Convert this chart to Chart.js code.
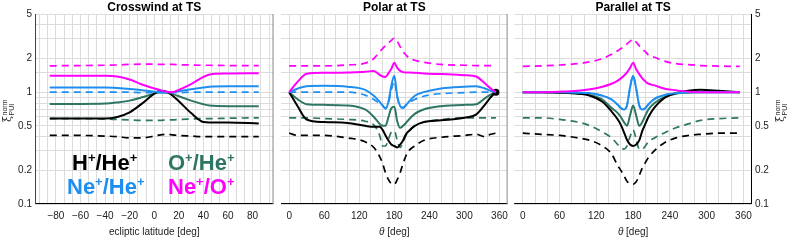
<!DOCTYPE html>
<html>
<head>
<meta charset="utf-8">
<script src="https://cdn.jsdelivr.net/npm/chart.js@4"></script>
<style>
  body { margin: 0; background: #fff; width: 789px; height: 240px; position: relative; overflow: hidden; }
  canvas { position: absolute; top: 0; }
</style>
</head>
<body>
<canvas id="c1" width="275" height="240" style="left:0"></canvas>
<canvas id="c2" width="239" height="240" style="left:275px"></canvas>
<canvas id="c3" width="275" height="240" style="left:514px"></canvas>
<script>
// ---- data ----
// crosswind at TS, x = ecliptic latitude [deg]
const latCW    = [-85, -60, -40, -30, -20, -10, 0, 5, 10, 15, 20, 30, 40, 45, 60, 85];
const cwHHe    = [0.58, 0.58, 0.58, 0.6, 0.66, 0.79, 0.97, 1.03, 1.01, 0.93, 0.83, 0.65, 0.54, 0.535, 0.535, 0.525];
const cwHHeD   = [0.41, 0.41, 0.405, 0.4, 0.39, 0.39, 0.405, 0.415, 0.42, 0.415, 0.41, 0.405, 0.4, 0.4, 0.4, 0.4];
const cwOHe    = [0.785, 0.785, 0.79, 0.81, 0.84, 0.9, 0.97, 1.0, 0.99, 0.96, 0.92, 0.84, 0.78, 0.76, 0.75, 0.75];
const cwOHeD   = [0.58, 0.58, 0.575, 0.57, 0.565, 0.56, 0.56, 0.56, 0.565, 0.565, 0.57, 0.575, 0.58, 0.58, 0.585, 0.59];
const cwNeHe   = [1.1, 1.1, 1.1, 1.09, 1.07, 1.04, 1.01, 1.0, 1.0, 1.0, 1.02, 1.06, 1.1, 1.12, 1.13, 1.13];
const cwNeHeD  = [1.0, 1.0, 1.0, 1.0, 1.0, 0.99, 0.99, 0.99, 0.99, 0.99, 0.99, 1.0, 1.0, 1.0, 1.0, 1.0];
const cwNeO    = [1.4, 1.4, 1.4, 1.38, 1.3, 1.17, 1.08, 1.04, 1.01, 1.0, 1.05, 1.18, 1.37, 1.44, 1.47, 1.48];
const cwNeOD   = [1.72, 1.73, 1.74, 1.75, 1.77, 1.78, 1.78, 1.77, 1.77, 1.77, 1.76, 1.75, 1.74, 1.74, 1.73, 1.73];

// polar at TS, x = theta [deg]
const thPol    = [0, 15, 30, 60, 100, 130, 145, 155, 160, 165, 170, 175, 180, 185, 190, 195, 200, 205, 215, 230, 260, 300, 320, 335, 345, 354];
const polHHe   = [1.0, 0.74, 0.57, 0.54, 0.53, 0.5, 0.49, 0.49, 0.46, 0.41, 0.37, 0.34, 0.33, 0.32, 0.34, 0.37, 0.42, 0.45, 0.5, 0.54, 0.56, 0.59, 0.63, 0.77, 0.9, 1.0];
const polHHeD  = [0.43, 0.41, 0.41, 0.41, 0.39, 0.36, 0.32, 0.265, 0.23, 0.19, 0.165, 0.152, 0.15, 0.165, 0.19, 0.23, 0.27, 0.3, 0.33, 0.37, 0.395, 0.41, 0.42, 0.4, 0.42, 0.43];
const polOHe   = [1.0, 0.86, 0.78, 0.77, 0.76, 0.7, 0.6, 0.52, 0.5, 0.5, 0.6, 0.72, 0.74, 0.55, 0.48, 0.5, 0.53, 0.57, 0.64, 0.7, 0.75, 0.77, 0.78, 0.88, 0.95, 1.0];
const polOHeD  = [0.59, 0.59, 0.59, 0.58, 0.57, 0.55, 0.51, 0.41, 0.33, 0.33, 0.38, 0.44, 0.45, 0.37, 0.32, 0.36, 0.41, 0.45, 0.5, 0.54, 0.57, 0.59, 0.59, 0.59, 0.59, 0.59];
const polNeHe  = [1.0, 1.08, 1.13, 1.14, 1.12, 1.05, 0.93, 0.82, 0.76, 0.71, 0.82, 1.15, 1.4, 0.92, 0.75, 0.72, 0.77, 0.82, 0.93, 1.0, 1.08, 1.12, 1.13, 1.08, 1.03, 1.0];
const polNeHeD = [1.0, 1.0, 1.0, 1.0, 1.0, 0.94, 0.86, 0.79, 0.76, 0.72, 0.8, 1.05, 1.25, 0.9, 0.75, 0.73, 0.76, 0.8, 0.86, 0.92, 0.97, 0.99, 1.0, 1.0, 1.0, 1.0];
const polNeO   = [1.0, 1.25, 1.46, 1.49, 1.5, 1.52, 1.55, 1.43, 1.38, 1.37, 1.48, 1.62, 1.83, 1.65, 1.55, 1.51, 1.5, 1.5, 1.49, 1.47, 1.45, 1.42, 1.38, 1.2, 1.08, 1.0];
const polNeOD  = [1.72, 1.72, 1.72, 1.72, 1.75, 1.82, 2.0, 2.3, 2.45, 2.6, 2.75, 2.9, 3.05, 2.85, 2.55, 2.3, 2.15, 2.02, 1.93, 1.85, 1.77, 1.74, 1.73, 1.73, 1.73, 1.73];

// parallel at TS, x = theta [deg]
const thPar    = [0, 30, 60, 90, 110, 130, 145, 155, 160, 165, 170, 175, 180, 185, 190, 195, 200, 205, 215, 230, 250, 270, 290, 320, 354];
const parHHe   = [1.0, 1.0, 0.99, 0.97, 0.93, 0.82, 0.67, 0.57, 0.51, 0.44, 0.375, 0.34, 0.33, 0.34, 0.37, 0.45, 0.52, 0.6, 0.73, 0.88, 0.98, 1.03, 1.05, 1.03, 1.0];
const parHHeD  = [0.43, 0.42, 0.41, 0.39, 0.37, 0.33, 0.28, 0.22, 0.2, 0.18, 0.16, 0.152, 0.15, 0.158, 0.18, 0.21, 0.235, 0.26, 0.3, 0.35, 0.39, 0.41, 0.42, 0.43, 0.43];
const parOHe   = [1.0, 1.0, 0.99, 0.97, 0.94, 0.86, 0.72, 0.65, 0.6, 0.54, 0.5, 0.62, 0.76, 0.62, 0.5, 0.54, 0.62, 0.7, 0.8, 0.9, 0.97, 0.99, 1.0, 1.0, 1.0];
const parOHeD  = [0.59, 0.59, 0.57, 0.54, 0.5, 0.44, 0.39, 0.34, 0.32, 0.31, 0.33, 0.4, 0.46, 0.38, 0.31, 0.31, 0.33, 0.36, 0.39, 0.43, 0.48, 0.52, 0.56, 0.58, 0.59];
const parNeHe  = [1.0, 1.0, 1.0, 0.99, 0.98, 0.93, 0.86, 0.77, 0.72, 0.7, 0.76, 1.1, 1.4, 1.08, 0.76, 0.7, 0.72, 0.78, 0.87, 0.94, 0.98, 1.0, 1.0, 1.0, 1.0];
const parNeHeD = [1.0, 1.0, 1.0, 0.99, 0.98, 0.93, 0.86, 0.77, 0.72, 0.7, 0.76, 1.1, 1.4, 1.08, 0.76, 0.7, 0.72, 0.78, 0.87, 0.94, 0.98, 1.0, 1.0, 1.0, 1.0];
const parNeO   = [1.0, 1.0, 1.01, 1.03, 1.06, 1.12, 1.19, 1.27, 1.33, 1.4, 1.5, 1.65, 1.83, 1.6, 1.45, 1.33, 1.25, 1.19, 1.15, 1.08, 1.04, 1.01, 1.0, 1.0, 1.0];
const parNeOD  = [1.7, 1.72, 1.75, 1.8, 1.87, 2.0, 2.18, 2.35, 2.45, 2.55, 2.7, 2.85, 2.98, 2.8, 2.6, 2.42, 2.3, 2.15, 2.05, 1.9, 1.8, 1.76, 1.73, 1.71, 1.7];

const yTickLabels = [0.1, 0.2, 0.5, 1, 2, 5];
const panelTitles = ['Crosswind at TS', 'Polar at TS', 'Parallel at TS'];

const colH = '#000000', colO = '#2f7564', colNe = '#1e8ff0', colNeO = '#ff00ff';
const SANS = '"Liberation Sans", Arial, Helvetica, sans-serif';
const GRID = '#dcdcdc';

function series(xs, ys, color, dashed, extra) {
  return Object.assign({
    data: xs.map((x, i) => ({ x: x, y: ys[i] })),
    borderColor: color,
    backgroundColor: color,
    borderWidth: dashed ? 1.7 : 2,
    borderDash: dashed ? [7, 5] : [],
    pointRadius: 0,
    cubicInterpolationMode: 'monotone',
    fill: false
  }, extra || {});
}

function yLabel(v) {
  const t = yTickLabels.find(t => Math.abs(v / t - 1) < 1e-6);
  return t === undefined ? '' : String(t);
}
function latLabel(v) {
  const r = Math.round(v);
  return (Math.abs(v - r) < 1e-6 && r % 20 === 0 && Math.abs(r) <= 80) ? String(r).replace('-', '\u2212') : '';
}
function thetaLabel(v) {
  const r = Math.round(v);
  return (Math.abs(v - r) < 1e-6 && r % 60 === 0 && r >= 0 && r <= 360) ? String(r) : '';
}

function vline(ctx, x, y0, y1, color) {
  ctx.strokeStyle = color; ctx.lineWidth = 1;
  ctx.beginPath(); ctx.moveTo(x, y0); ctx.lineTo(x, y1); ctx.stroke();
}

// xi^norm_PUI, rotated so it reads bottom to top
function drawXi(ctx, x, y) {
  ctx.save();
  ctx.translate(x, y);
  ctx.rotate(-Math.PI / 2);
  ctx.fillStyle = '#222';
  ctx.textAlign = 'left';
  ctx.textBaseline = 'alphabetic';
  ctx.font = '11px "DejaVu Serif", serif';
  ctx.fillText('\u03BE', 0, 0);
  const w = ctx.measureText('\u03BE').width + 0.5;
  ctx.font = '7px ' + SANS;
  ctx.fillText('norm', w, -4.5);
  ctx.fillText('PUI', w, 3);
  ctx.restore();
}

function drawSup(ctx, parts, x, y, color) {
  ctx.fillStyle = color;
  ctx.textAlign = 'left';
  ctx.textBaseline = 'alphabetic';
  parts.forEach(p => {
    ctx.font = p[1] ? 'bold 13px ' + SANS : 'bold 22px ' + SANS;
    ctx.fillText(p[0], x, p[1] ? y - 8 : y);
    x += ctx.measureText(p[0]).width;
  });
}

const deco = {
  id: 'deco',
  afterDatasetsDraw(chart, args, o) {
    const ctx = chart.ctx, a = chart.chartArea;
    ctx.save();
    // frame
    ctx.strokeStyle = '#000'; ctx.lineWidth = 1;
    ctx.beginPath(); ctx.moveTo(a.left, a.bottom - 0.5); ctx.lineTo(a.right, a.bottom - 0.5); ctx.stroke();
    if (o.left) vline(ctx, a.left + 0.5, a.top, a.bottom, o.left);
    if (o.right) vline(ctx, a.right - 0.5, a.top, a.bottom, o.right);

    const cx = (a.left + a.right) / 2;
    ctx.fillStyle = '#000';
    ctx.textAlign = 'center';
    ctx.textBaseline = 'alphabetic';
    ctx.font = 'bold 12px ' + SANS;
    ctx.fillText(o.title, cx, 11);

    // x axis title
    ctx.fillStyle = '#222';
    if (o.theta) {
      ctx.font = 'italic 10px ' + SANS;
      const w1 = ctx.measureText('\u03B8').width;
      ctx.font = '10px ' + SANS;
      const w2 = ctx.measureText(' [deg]').width;
      const x0 = cx - (w1 + w2) / 2;
      ctx.textAlign = 'left';
      ctx.font = 'italic 10px ' + SANS;
      ctx.fillText('\u03B8', x0, 235);
      ctx.font = '10px ' + SANS;
      ctx.fillText(' [deg]', x0 + w1, 235);
    } else {
      ctx.font = '10px ' + SANS;
      ctx.fillText('ecliptic latitude [deg]', cx, 235);
    }

    if (o.yTitleX !== undefined) drawXi(ctx, o.yTitleX, 122);

    if (o.legend) {
      drawSup(ctx, [['H', 0], ['+', 1], ['/He', 0], ['+', 1]], 72, 170, colH);
      drawSup(ctx, [['O', 0], ['+', 1], ['/He', 0], ['+', 1]], 168, 170, colO);
      drawSup(ctx, [['Ne', 0], ['+', 1], ['/He', 0], ['+', 1]], 67, 194, colNe);
      drawSup(ctx, [['Ne', 0], ['+', 1], ['/O', 0], ['+', 1]], 168, 194, colNeO);
    }
    ctx.restore();
  }
};

function makeChart(id, datasets, cfg) {
  return new Chart(document.getElementById(id), {
    type: 'line',
    data: { datasets: datasets },
    plugins: [deco],
    options: {
      responsive: false,
      animation: false,
      devicePixelRatio: 1,
      layout: { padding: { top: 14, left: 0, right: 0, bottom: 0 } },
      plugins: {
        legend: { display: false },
        tooltip: { enabled: false },
        deco: cfg.deco
      },
      scales: {
        x: {
          type: 'linear', min: cfg.xmin, max: cfg.xmax,
          ticks: { stepSize: cfg.step, includeBounds: false, autoSkip: false, maxRotation: 0, padding: 6, color: '#222',
                   font: { family: SANS, size: 10 }, callback: cfg.label },
          grid: { color: GRID, drawTicks: false },
          border: { display: false },
          afterFit: s => { s.height = 36; }
        },
        y: {
          type: 'logarithmic', position: cfg.yPos, min: 0.1, max: 5,
          ticks: { display: cfg.yTicks, autoSkip: false, padding: 3, color: '#222',
                   font: { family: SANS, size: 10 }, callback: yLabel },
          grid: { color: GRID, drawTicks: false },
          border: { display: false },
          afterFit: s => { s.width = cfg.yWidth; }
        }
      }
    }
  });
}

makeChart('c1', [
  series(latCW, cwNeO, colNeO, false),
  series(latCW, cwNeOD, colNeO, true),
  series(latCW, cwNeHe, colNe, false),
  series(latCW, cwNeHeD, colNe, true),
  series(latCW, cwHHe, colH, false),
  series(latCW, cwHHeD, colH, true),
  series(latCW, cwOHe, colO, false),
  series(latCW, cwOHeD, colO, true)
], { xmin: -97, xmax: 97, step: 20 / 3, label: latLabel, yPos: 'left', yTicks: true, yWidth: 35,
     deco: { title: panelTitles[0], left: '#444', right: '#888', yTitleX: 11, legend: true } });

makeChart('c2', [
  series(thPol, polNeO, colNeO, false),
  series(thPol, polNeOD, colNeO, true),
  series(thPol, polNeHe, colNe, false),
  series(thPol, polNeHeD, colNe, true),
  series(thPol, polHHe, colH, false, { pointRadius: thPol.map((v, i) => i === thPol.length - 1 ? 2.5 : 0) }),
  series(thPol, polHHeD, colH, true),
  series(thPol, polOHe, colO, false),
  series(thPol, polOHeD, colO, true)
], { xmin: -14, xmax: 374, step: 20, label: thetaLabel, yPos: 'left', yTicks: false, yWidth: 0,
     deco: { title: panelTitles[1], right: '#888', theta: true } });

makeChart('c3', [
  series(thPar, parNeO, colNeO, false),
  series(thPar, parNeOD, colNeO, true),
  series(thPar, parNeHe, colNe, false),
  series(thPar, parNeHeD, colNe, true),
  series(thPar, parHHe, colH, false),
  series(thPar, parHHeD, colH, true),
  series(thPar, parOHe, colO, false),
  series(thPar, parOHeD, colO, true)
], { xmin: -14, xmax: 374, step: 20, label: thetaLabel, yPos: 'right', yTicks: true, yWidth: 37,
     deco: { title: panelTitles[2], right: '#000', theta: true, yTitleX: 270 } });
</script>
</body>
</html>
